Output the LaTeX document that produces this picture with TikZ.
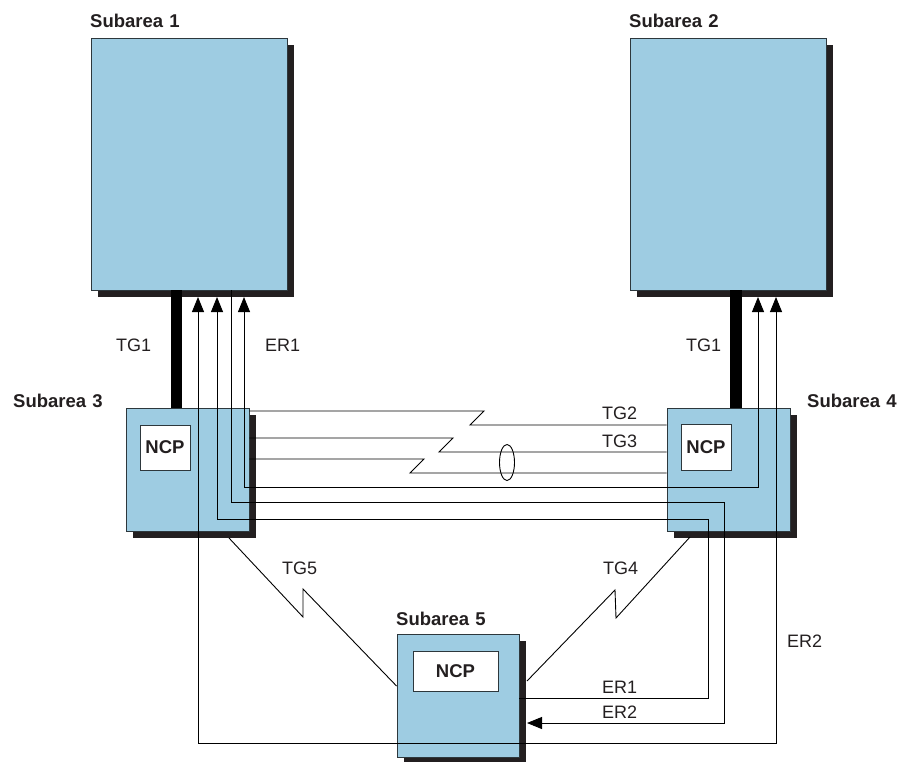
\documentclass[tikz,border=0pt]{standalone}
\usepackage{fontspec}
\setmainfont{Liberation Sans}
\usetikzlibrary{arrows.meta,shadows}
\definecolor{boxblue}{RGB}{158,204,226}
\definecolor{shade}{RGB}{35,31,32}
\definecolor{edgec}{RGB}{45,55,60}
\begin{document}
\begin{tikzpicture}[x=1pt,y=-1pt,
  font=\fontsize{18}{20}\selectfont,
  area/.style={draw=edgec, line width=0.9pt, fill=boxblue, inner sep=0pt,
    general shadow={fill=shade, shadow xshift=7pt, shadow yshift=-7pt}},
  ncpbox/.style={draw=edgec, line width=0.9pt, fill=white, inner sep=0pt,
    text=shade, font=\fontsize{18.5}{20}\selectfont\bfseries},
  lbl/.style={anchor=base west, inner sep=0pt, text=shade},
  ttl/.style={lbl, font=\fontsize{18.5}{20}\selectfont\bfseries},
  ln/.style={line width=0.9pt, black},
  tgbar/.style={line width=11.5pt, shade},
  tri/.tip={Triangle[length=15pt,width=12pt]}
]
\useasboundingbox (0,0) rectangle (905,761);

% subarea boxes
\node[area, minimum width=196pt, minimum height=252pt] (s1) at (189,164) {};
\node[area, minimum width=196pt, minimum height=252pt] (s2) at (728,164) {};
\node[area, minimum width=123pt, minimum height=123pt] (s3) at (187.5,469.5) {};
\node[area, minimum width=123pt, minimum height=123pt] (s4) at (728.5,469.5) {};
\node[area, minimum width=122pt, minimum height=123pt] (s5) at (458,695.5) {};

% NCP boxes
\node[ncpbox, minimum width=50pt, minimum height=45pt] (n3) at (165,447.5) {NCP};
\node[ncpbox, minimum width=50pt, minimum height=46pt] (n4) at (706,447) {NCP};
\node[ncpbox, minimum width=85pt, minimum height=40pt] (n5) at (455.5,671) {NCP};

% titles
\node[ttl] (l1) at (90,27) {Subarea\,\,1};
\node[ttl] (l2) at (629,27) {Subarea\,\,2};
\node[ttl] (l3) at (13,407) {Subarea\,\,3};
\node[ttl] (l4) at (807,407) {Subarea\,\,4};
\node[ttl] (l5) at (396,625) {Subarea\,\,5};

% TG1 bars
\draw[tgbar] (176.5,0 |- s1.south) -- (176.5,0 |- s3.north);
\draw[tgbar] (736,0 |- s2.south) -- (736,0 |- s4.north);

% TG2, TG3 lines with breaks
\draw[ln] (s3.east |- 0,411) -- (484,411) -- (470,425) -- (s4.west |- 0,425);
\draw[ln] (s3.east |- 0,438) -- (453,438) -- (439,452) -- (s4.west |- 0,452);
\draw[ln] (s3.east |- 0,459) -- (424,459) -- (410,473) -- (s4.west |- 0,473);
\draw[ln] (507,462.5) ellipse [x radius=7.5, y radius=18];

% TG5 and TG4
\draw[ln] (229,538) -- (303,617) -- (303,589) -- (s5.west |- 0,686);
\draw[ln] (690,537) -- (616,618) -- (615,590) -- (527,681);

% explicit routes
\draw[ln, tri-tri] (198,297) -- (198,743) -- (776,743) -- (776,297);
\draw[ln, tri-] (217,297) -- (217,519) -- (708,519) -- (708,698) -- (s5.east |- 0,698);
\draw[ln, -tri] (231,0 |- s1.south) -- (231,502) -- (724,502) -- (724,723) -- (527,723);
\draw[ln, tri-tri] (244,297) -- (244,487) -- (758,487) -- (758,297);

% labels
\node[lbl] (tg1a) at (116,351) {TG1};
\node[lbl] (er1a) at (265,351) {ER1};
\node[lbl] (tg1b) at (686,351) {TG1};
\node[lbl] (tg2) at (602,419) {TG2};
\node[lbl] (tg3) at (602,447) {TG3};
\node[lbl] (tg5) at (282,574) {TG5};
\node[lbl] (tg4) at (603,574) {TG4};
\node[lbl] (er1b) at (602,693) {ER1};
\node[lbl] (er2b) at (602,718) {ER2};
\node[lbl] (er2c) at (787,647) {ER2};
\end{tikzpicture}
\end{document}
